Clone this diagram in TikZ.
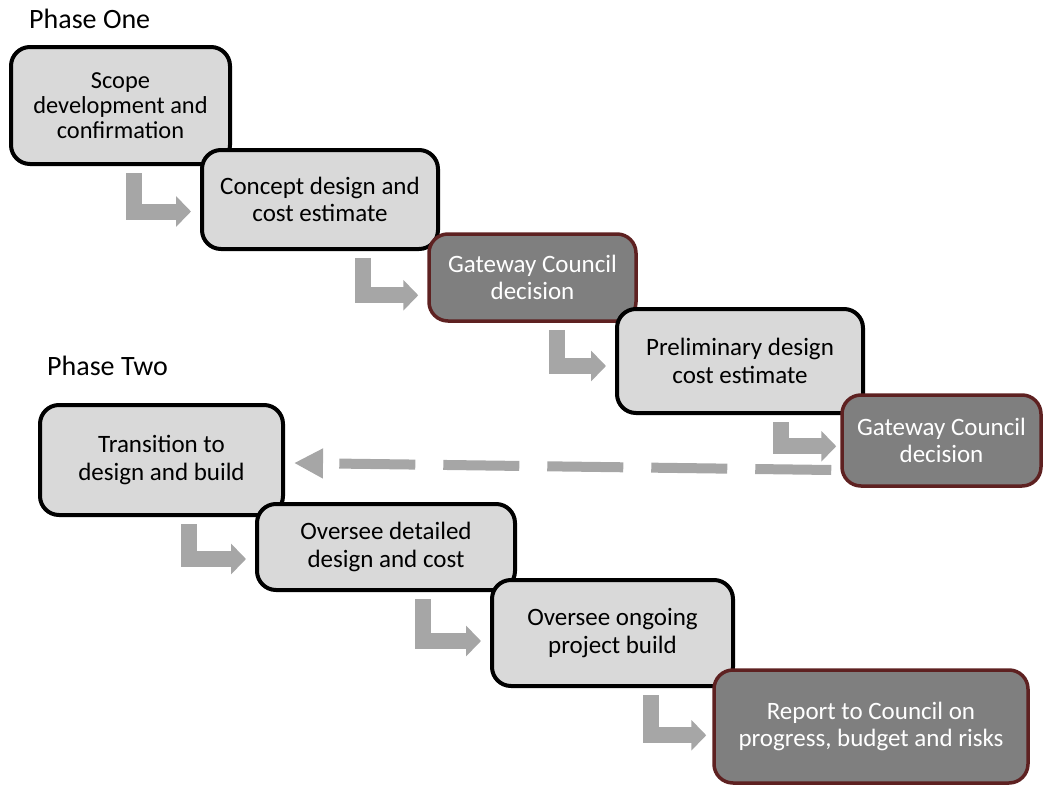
\documentclass[tikz,border=0pt]{standalone}
\usepackage{fontspec}
\setmainfont{Carlito}
\usetikzlibrary{arrows.meta}

\definecolor{boxlight}{HTML}{D9D9D9}
\definecolor{boxdark}{HTML}{7F7F7F}
\definecolor{rimdark}{HTML}{5E2121}
\definecolor{flowgray}{HTML}{A6A6A6}

% bent grey connector: from, to, stem offset left of target, bar depth below target top, tip gap
\newcommand\stepflow[5]{%
  \draw[flow] ([xshift=-#3pt]#2.west |- #1.south) ++(0,7) |- ([xshift=-#5pt,yshift=-#4pt]#2.north west);}

\begin{document}
\begin{tikzpicture}[x=1pt,y=-1pt,
  stagebox/.style={draw=black, line width=4pt, fill=boxlight, rounded corners=19pt,
    align=center, text=black, inner sep=0pt,
    font=\fontsize{25}{27.7}\selectfont},
  gatebox/.style={stagebox, draw=rimdark, line width=3.5pt, fill=boxdark, text=white},
  flow/.style={draw=flowgray, line width=16pt, line join=miter,
    -{Triangle[length=15pt,width=30pt]}},
  backflow/.style={draw=flowgray, line width=10pt, dash pattern=on 76pt off 28pt,
    -{Triangle[length=29pt,width=28pt]}},
  phaselabel/.style={font=\fontsize{28}{33}\selectfont, anchor=base west, inner sep=0pt}]

\useasboundingbox (0,0) rectangle (1045,787);

% phase headings
\node[phaselabel] (p1) at (29,28) {Phase One};
\node[phaselabel] (p2) at (47,375) {Phase Two};

% phase one stages
\node[stagebox, minimum width=219pt, minimum height=117pt,
  font=\fontsize{24.4}{24.8}\selectfont] (scope) at (120.5,105.5)
  {Scope\\development and\\confirmation};
\node[stagebox, minimum width=236pt, minimum height=99pt] (concept) at (320,199.5)
  {Concept design and\\cost estimate};
\node[gatebox, minimum width=207pt, minimum height=87pt] (gate1) at (532.5,277.5)
  {Gateway Council\\decision};
\node[stagebox, minimum width=246pt, minimum height=104pt] (prelim) at (740,361)
  {Preliminary design\\cost estimate};
\node[gatebox, minimum width=199pt, minimum height=91pt] (gate2) at (941.5,440.5)
  {Gateway Council\\decision};

% phase two stages
\node[stagebox, minimum width=243pt, minimum height=110pt] (trans) at (161.5,460)
  {Transition to\\design and build};
\node[stagebox, minimum width=258pt, minimum height=86pt] (detail) at (386,547)
  {Oversee detailed\\design and cost};
\node[stagebox, minimum width=241pt, minimum height=106pt] (build) at (612.5,633)
  {Oversee ongoing\\project build};
\node[gatebox, minimum width=314pt, minimum height=113pt] (report) at (871,726.5)
  {Report to Council on\\progress, budget and risks};

% step connectors
\stepflow{scope}{concept}{66}{63.5}{9}
\stepflow{concept}{gate1}{64}{63}{9}
\stepflow{gate1}{prelim}{58}{59}{9}
\stepflow{prelim}{gate2}{59}{53}{4}
\stepflow{trans}{detail}{66}{57}{9}
\stepflow{detail}{build}{67}{63}{9}
\stepflow{build}{report}{61}{67}{6}

% return from the second gateway to phase two
\draw[backflow] ([xshift=-9pt,yshift=-29.5pt]gate2.west) -- ([xshift=9pt,yshift=-3pt]trans.east);
\end{tikzpicture}
\end{document}
